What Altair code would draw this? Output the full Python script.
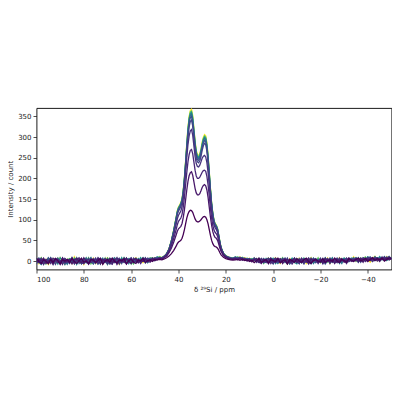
import altair as alt
import pandas as pd

# chemical shift grid of the resolved peak region (ppm)
X_PEAK = [47, 46, 45, 44, 43, 42, 41,
          40.5, 40, 39.5, 39, 38.5, 38, 37.5, 37, 36.5, 36, 35.5, 35, 34.5, 34,
          33.5, 33, 32.5, 32, 31.5, 31, 30.5, 30, 29.5, 29, 28.5, 28, 27.5, 27,
          26.5, 26, 25.5, 25, 24.5, 24, 23.5, 23, 22.5, 22,
          21, 20, 19, 18, 17]

SERIES = ["s01", "s02", "s03", "s04", "s05", "s06", "s07", "s08", "s09", "s10"]
COLORS = ["#fde725", "#5ec962", "#21918c", "#2c728e", "#3b528b",
          "#414487", "#46337e", "#482878", "#48186a", "#440154"]

# baseline from 100 ppm down to 48 ppm (1 ppm steps)
LEFT = {
    "s01": [3,-6,7,-1,4,-8,1,6,-4,0,8,-3,-7,4,1,-6,10,0,-4,3,-8,6,1,-3,7,-6,0,4,-7,3,8,-1,-4,6,0,-8,3,7,-3,1,-6,4,8,-1,3,-4,6,1,7,3,8,4,10],
    "s02": [-4,1,8,-3,-7,6,0,3,-6,7,-1,4,-8,3,6,-4,1,7,-3,-6,4,0,8,-7,1,-3,6,3,-4,7,-8,0,4,-1,6,-6,1,8,-4,3,0,-7,6,3,-1,7,4,-3,6,8,4,7,11],
    "s03": [6,-3,-8,4,1,7,-4,-1,3,-7,8,0,-6,1,4,-3,7,-8,3,0,6,-4,-1,8,-6,3,1,-7,4,-3,7,0,-6,4,1,-4,8,-3,0,6,-7,3,4,-1,8,0,3,-4,7,6,1,8,7],
    "s04": [-1,7,-6,3,-3,0,8,-7,4,1,-4,6,-1,-8,3,7,-3,0,4,-6,1,8,-4,3,-1,6,-7,0,7,-3,1,-6,4,8,-4,0,3,-1,7,-6,4,1,-3,6,0,8,-4,3,7,1,6,10,6],
    "s05": [4,0,-7,6,-3,8,-1,-6,3,7,-4,1,-8,4,0,6,-3,8,-6,1,3,-4,7,-1,-7,4,0,6,-3,1,-8,7,3,-4,0,4,-6,8,1,-3,6,-1,7,-4,3,0,8,-3,4,7,3,6,8],
    "s06": [-7,3,6,-1,0,-4,7,3,-8,4,1,-3,6,0,-6,8,-4,1,4,-7,0,3,-3,7,-1,-6,8,1,-4,4,0,-7,6,-1,3,7,-3,0,-6,4,8,-4,1,3,-1,6,0,7,4,3,8,6,8],
    "s07": [1,-4,6,-8,3,0,7,-3,-1,4,-6,8,0,-4,3,6,-7,1,-1,7,-3,4,-8,0,6,-4,3,7,-1,0,-6,4,1,-3,8,-7,3,0,6,-1,-4,7,1,-3,4,0,6,3,-1,7,4,6,8],
    "s08": [0,6,-3,-7,4,1,-6,7,3,-4,0,-8,6,1,-1,4,-6,3,8,-3,-7,1,4,-4,0,7,-6,3,-1,6,1,-4,-8,3,7,0,-3,4,-7,1,6,-3,0,4,-6,3,7,-1,4,0,6,3,7],
    "s09": [-3,4,0,7,-6,-1,3,-8,6,1,-4,7,-3,0,4,-7,3,6,-1,-4,8,0,-6,3,1,-3,7,-7,4,0,-1,6,-4,3,-8,1,4,-3,7,0,-6,3,6,-4,1,-1,4,0,-3,6,1,4,6],
    "s10": [7,-1,-6,3,0,-7,4,-3,6,1,-8,3,0,4,-4,7,-1,-6,1,6,-3,0,-7,4,3,-4,1,6,-8,0,4,-3,7,-1,-4,3,0,6,-7,1,4,-3,-6,3,0,7,-4,1,3,-1,4,3,4],
}

# peak region on X_PEAK
PEAK = {
    "s01": [8,12,18,30,50,76,106,122,131,136,142,152,172,203,242,285,323,350,364,367,352,322,291,268,258,256,260,272,288,300,306,303,286,256,216,176,141,116,99,91,87,79,63,46,33,19,13,10,8,7],
    "s02": [8,12,18,29,49,75,105,121,130,134,140,150,170,201,240,282,320,347,361,363,349,319,288,265,255,253,257,269,285,297,303,300,283,253,214,174,139,115,98,90,86,78,62,46,32,19,13,9,8,7],
    "s03": [7,11,17,29,49,74,104,119,128,133,139,149,168,199,237,279,317,344,357,360,345,316,285,263,253,251,255,267,282,294,300,297,280,251,212,172,138,114,97,89,85,77,62,45,32,18,12,9,7,6],
    "s04": [8,12,18,29,48,73,103,118,127,132,138,147,167,197,235,276,313,340,353,356,341,312,282,260,250,248,252,264,279,291,297,294,277,248,210,171,137,113,96,88,84,77,61,45,32,18,12,10,8,7],
    "s05": [7,11,17,28,48,72,101,116,125,130,136,145,164,194,231,272,308,334,348,350,336,307,278,256,246,244,248,260,275,286,292,289,273,244,206,168,135,111,95,87,83,75,60,44,31,18,12,9,7,6],
    "s06": [7,11,16,28,46,70,98,113,121,126,132,141,160,189,225,265,300,325,338,341,327,299,271,249,240,238,242,253,268,279,285,282,266,238,201,164,131,108,92,85,81,73,58,43,30,17,11,9,7,6],
    "s07": [7,11,16,27,43,64,89,102,111,116,121,132,151,180,215,250,282,303,315,318,305,279,253,236,229,228,232,240,249,254,256,252,238,214,182,149,121,100,87,80,76,69,56,41,30,17,11,8,6,5],
    "s08": [6,9,14,23,37,55,76,88,96,100,104,113,130,154,184,214,240,258,268,270,260,240,220,206,200,200,203,209,215,219,220,217,205,184,157,128,104,86,75,69,66,60,49,36,26,15,10,7,6,5],
    "s09": [5,8,12,20,31,46,63,72,78,81,84,91,105,124,148,172,193,207,214,216,208,192,176,165,160,160,163,170,178,183,185,182,172,154,130,106,86,71,62,57,55,50,41,31,23,13,9,6,5,4],
    "s10": [3,5,8,12,18,26,36,42,46,48,50,55,64,76,90,104,114,120,123,122,118,110,102,97,95,95,97,100,104,107,108,106,100,90,76,62,50,42,37,35,34,31,26,20,15,9,6,4,3,2],
}

# baseline from 16 ppm down to -50 ppm (1 ppm steps)
RIGHT = {
    "s01": [9,7,10,6,8,4,7,3,7,1,6,-3,4,0,7,-4,3,8,-1,-6,4,1,-7,6,0,3,-4,7,-1,4,-6,1,8,-3,0,6,-4,3,-1,7,-6,4,1,-3,8,0,3,-4,6,1,10,-1,4,7,0,8,3,-3,7,11,1,6,8,3,11,4,7],
    "s02": [8,10,6,9,5,7,2,6,0,6,-1,4,-6,3,7,-3,0,6,-4,1,8,-1,-7,3,4,-3,6,0,-4,7,1,-6,3,4,-1,8,-4,0,6,-3,3,7,-4,1,4,-1,7,-3,3,6,0,8,4,-1,6,10,1,7,3,11,4,0,8,6,3,10,6],
    "s03": [10,6,8,7,4,6,3,5,3,-1,4,1,-4,6,-3,3,7,-6,0,4,-1,6,-4,1,7,-3,-7,3,0,6,-1,4,-6,7,1,-3,3,-4,8,0,4,-3,1,6,-6,3,7,0,-1,4,8,3,-3,7,4,1,10,6,0,7,3,11,4,8,1,6,8],
    "s04": [7,9,8,5,6,3,6,1,6,3,-3,6,0,-4,4,7,-1,3,-6,1,6,-3,4,-7,0,7,-1,3,-4,6,0,-3,7,-6,1,4,-1,6,-4,3,0,8,-3,4,1,-6,6,3,-1,7,4,0,8,-1,6,3,10,4,7,1,8,6,3,11,4,7,6],
    "s05": [9,6,7,8,3,5,4,2,8,0,3,-4,6,1,-3,4,-7,3,6,-1,0,7,-4,3,-3,6,1,-6,4,0,-1,7,-4,3,6,-3,0,4,-7,1,7,-1,3,-4,6,0,4,-3,7,1,3,8,-1,4,6,0,7,10,3,6,8,1,7,4,10,3,7],
    "s06": [8,7,9,5,7,4,5,2,4,-1,7,0,-3,4,-6,3,1,6,-4,0,4,-1,7,-6,3,0,-3,6,1,-7,4,3,-1,6,-4,1,7,-3,0,4,-6,3,1,7,-3,4,0,6,-1,3,7,1,6,-3,8,4,1,7,0,10,6,3,8,4,7,11,4],
    "s07": [7,5,8,4,6,2,5,1,4,-3,6,0,-4,3,7,-1,-6,4,1,-3,6,0,-7,3,4,-1,1,-6,7,0,-3,4,-4,6,1,-1,3,-7,4,0,6,-3,1,4,-4,3,0,7,-1,4,1,6,-3,7,3,0,8,4,-1,6,7,3,10,1,6,4,8],
    "s08": [6,4,7,3,5,1,4,-1,4,0,-4,6,1,-3,4,-6,3,7,0,-4,1,6,-3,4,-7,1,3,-1,6,-4,0,7,-3,1,4,-6,3,0,-1,6,-4,4,1,-3,7,0,3,-6,4,1,-1,6,3,0,7,-1,4,8,3,6,0,7,4,10,3,6,7],
    "s09": [5,3,6,2,4,0,3,-2,3,6,-1,-6,4,1,-3,7,0,-4,3,6,-6,1,4,-3,0,7,-4,3,-1,4,1,-7,6,0,3,-3,4,-4,7,1,-1,3,-6,4,0,6,-3,1,7,-1,3,4,0,6,-3,7,4,1,8,3,6,-1,7,4,8,3,6],
    "s10": [3,4,2,5,1,3,-1,2,-4,1,6,-3,0,4,-6,3,1,-1,7,-4,0,3,-7,4,1,-3,6,0,-4,3,7,-1,-6,1,4,0,-3,6,-4,1,3,-1,7,0,-4,4,1,-3,6,3,-1,4,7,0,3,6,-1,4,8,1,6,3,7,0,4,8,6],
}

X_TICKS = [100, 80, 60, 40, 20, 0, -20, -40]
Y_TICKS = [0, 50, 100, 150, 200, 250, 300, 350]

rows = []
for s in SERIES:
    xs = [100 - i for i in range(len(LEFT[s]))] + X_PEAK + [16 - i for i in range(len(RIGHT[s]))]
    ys = LEFT[s] + PEAK[s] + RIGHT[s]
    for k, (xv, yv) in enumerate(zip(xs, ys)):
        rows.append({"series": s, "ppm": xv, "intensity": yv, "k": k})
df = pd.DataFrame(rows)

chart = alt.Chart(df).mark_line(strokeWidth=1.3, clip=True).encode(
    x=alt.X("ppm:Q",
            scale=alt.Scale(domain=[-50, 100], reverse=True, nice=False, zero=False),
            axis=alt.Axis(values=X_TICKS, title="δ ²⁹Si / ppm", grid=False)),
    y=alt.Y("intensity:Q",
            scale=alt.Scale(domain=[-20.5, 370.5], nice=False, zero=False),
            axis=alt.Axis(values=Y_TICKS, title="Intensity / count", grid=False)),
    color=alt.Color("series:N", scale=alt.Scale(domain=SERIES, range=COLORS), legend=None),
    order=alt.Order("k:Q"),
).properties(
    width=355, height=161.5,
    autosize=alt.AutoSizeParams(type="none"),
    padding={"left": 28.5, "top": 100, "right": 0, "bottom": 40},
).configure_view(
    stroke="black", strokeWidth=0.9
).configure_axis(
    labelFont="DejaVu Sans", labelFontSize=7, labelColor="#222222",
    titleFont="DejaVu Sans", titleFontSize=7, titleFontWeight="normal", titleColor="#222222",
    tickColor="#222222", tickSize=3.5, tickWidth=0.8, labelPadding=2,
    domain=False,
).configure_axisX(titlePadding=3).configure_axisY(titlePadding=4)

chart.save("out.html", embed_options={"renderer": "svg", "actions": False})
